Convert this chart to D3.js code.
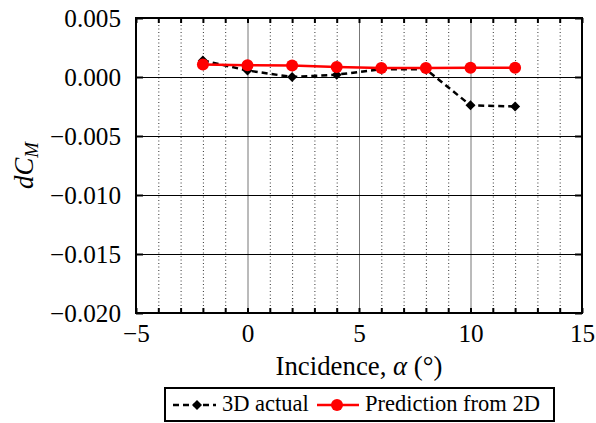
<!DOCTYPE html>
<html>
<head>
<meta charset="utf-8">
<script src="https://cdn.jsdelivr.net/npm/d3@7"></script>
</head>
<body style="margin:0;background:#fff">
<svg id="chart" width="596" height="423" style="display:block" font-family="Liberation Serif"></svg>
<script>
// Incidence angles (degrees)
const alphas = [-2, 0, 2, 4, 6, 8, 10, 12];
// Pitching moment increment measured in 3D
const actual3D = [0.0014, 0.00055, 0.0, 0.0002, 0.00065, 0.00065, -0.0024, -0.0025];
// Pitching moment increment predicted from 2D data
const predicted2D = [0.00105, 0.001, 0.00097, 0.00085, 0.00077, 0.00077, 0.00078, 0.00078];

const xTicks = [-5, 0, 5, 10, 15];
const yTicks = [0.005, 0.000, -0.005, -0.010, -0.015, -0.020];

const FAMILY = "Liberation Serif";
const svg = d3.select("#chart");
const W = 596, H = 423;
const margin = { left: 136, right: 14, top: 18, bottom: 110 };
const x = d3.scaleLinear().domain([-5, 15]).range([margin.left, W - margin.right]);
const y = d3.scaleLinear().domain([-0.020, 0.005]).range([H - margin.bottom, margin.top]);
const [x0, x1] = x.range();
const [y0, y1] = y.range();

const minus = s => s.replace("-", "\u2212");
const fmt = v => minus(d3.format(".3f")(v === 0 ? 0 : v));
const serif = (sel, size) => sel.attr("font-family", FAMILY).attr("font-size", size)
  .style("font-family", `'${FAMILY}'`, "important").style("font-size", size + "px", "important");

// Scale a group of texts so that a reference label spans the wanted width
function fitSize(sel, refNode, baseSize, wantWidth) {
  let size = baseSize;
  try {
    const w = refNode.getComputedTextLength();
    if (w > 0) size = Math.max(baseSize * 0.85, Math.min(baseSize * 1.35, baseSize * wantWidth / w));
  } catch (e) { /* keep base size */ }
  sel.style("font-size", size.toFixed(1) + "px", "important").attr("font-size", size.toFixed(1));
  return size;
}

// Minor vertical grid (every degree)
const minor = d3.range(-4, 15).filter(v => v % 5 !== 0);
svg.append("g").selectAll("line").data(minor).join("line")
  .attr("x1", d => x(d) + 0.5).attr("x2", d => x(d) + 0.5)
  .attr("y1", y1).attr("y2", y0)
  .attr("stroke", "#333").attr("stroke-width", 1).attr("stroke-dasharray", "1,2.5");

// Major vertical grid
svg.append("g").selectAll("line").data(xTicks.slice(1, -1)).join("line")
  .attr("x1", d => x(d) + 0.5).attr("x2", d => x(d) + 0.5)
  .attr("y1", y1).attr("y2", y0)
  .attr("stroke", "#777").attr("stroke-width", 1);

// Horizontal grid
svg.append("g").selectAll("line").data(yTicks.slice(1, -1)).join("line")
  .attr("x1", x0).attr("x2", x1)
  .attr("y1", d => Math.round(y(d)) + 0.5).attr("y2", d => Math.round(y(d)) + 0.5)
  .attr("stroke", "#000").attr("stroke-width", 1);

// Axes with inward ticks on all four sides
const allX = d3.range(-5, 16);
const gxb = svg.append("g").attr("transform", `translate(0,${y0})`)
  .call(d3.axisBottom(x).tickValues(allX).tickSize(-5).tickSizeOuter(0)
    .tickFormat(d => xTicks.includes(d) ? minus(String(d)) : ""));
serif(gxb, 24);
gxb.selectAll(".tick line").attr("stroke-width", 2);
const xTickText = serif(gxb.selectAll(".tick text").attr("y", 11).attr("dy", "0.71em"), 24);
gxb.select(".domain").remove();

const gxt = svg.append("g").attr("transform", `translate(0,${y1})`)
  .call(d3.axisTop(x).tickValues(allX).tickSize(-5).tickSizeOuter(0).tickFormat(""));
gxt.selectAll(".tick line").attr("stroke-width", 2);
gxt.select(".domain").remove();

const gyl = svg.append("g").attr("transform", `translate(${x0},0)`)
  .call(d3.axisLeft(y).tickValues(yTicks).tickSize(-7).tickSizeOuter(0).tickFormat(fmt));
serif(gyl, 24);
gyl.selectAll(".tick line").attr("stroke-width", 2);
const yTickText = serif(gyl.selectAll(".tick text").attr("x", -15), 24);
gyl.select(".domain").remove();

const gyr = svg.append("g").attr("transform", `translate(${x1},0)`)
  .call(d3.axisRight(y).tickValues(yTicks).tickSize(-7).tickSizeOuter(0).tickFormat(""));
gyr.selectAll(".tick line").attr("stroke-width", 2);
gyr.select(".domain").remove();

// Tick label size: "−0.020" spans about 71px
const tickSize = fitSize(yTickText, yTickText.nodes()[yTickText.size() - 1], 24, 71);
xTickText.style("font-size", tickSize.toFixed(1) + "px", "important");

// Plot frame
svg.append("rect").attr("x", x0).attr("y", y1).attr("width", x1 - x0).attr("height", y0 - y1)
  .attr("fill", "none").attr("stroke", "#000").attr("stroke-width", 2);

// Square diamond marker
const diamondType = {
  draw(ctx, size) {
    const r = Math.sqrt(size / 2);
    ctx.moveTo(0, -r); ctx.lineTo(r, 0); ctx.lineTo(0, r); ctx.lineTo(-r, 0); ctx.closePath();
  }
};
const diamond = d3.symbol().type(diamondType).size(50);
const line = d3.line();

const pts3D = alphas.map((a, i) => [x(a), y(actual3D[i])]);
const pts2D = alphas.map((a, i) => [x(a), y(predicted2D[i])]);

svg.append("path").attr("d", line(pts3D)).attr("fill", "none")
  .attr("stroke", "#000").attr("stroke-width", 2.5).attr("stroke-dasharray", "6,4");
svg.append("g").selectAll("path").data(pts3D).join("path")
  .attr("transform", d => `translate(${d[0]},${d[1]})`).attr("d", diamond).attr("fill", "#000");

svg.append("path").attr("d", line(pts2D)).attr("fill", "none")
  .attr("stroke", "#f00").attr("stroke-width", 2.5);
svg.append("g").selectAll("circle").data(pts2D).join("circle")
  .attr("cx", d => d[0]).attr("cy", d => d[1]).attr("r", 6).attr("fill", "#f00");

// Axis titles
const yl = serif(svg.append("text").attr("transform", `translate(33,${(y0 + y1) / 2}) rotate(-90)`)
  .attr("text-anchor", "middle").attr("font-style", "italic"), 24);
yl.append("tspan").text("dC");
yl.append("tspan").text("M").attr("dy", 5).attr("font-size", 17).style("font-size", "0.7em", "important");

const xl = serif(svg.append("text").attr("x", (x0 + x1) / 2).attr("y", 375)
  .attr("text-anchor", "middle"), 24);
xl.append("tspan").text("Incidence, ");
xl.append("tspan").text("\u03b1").attr("font-style", "italic");
xl.append("tspan").text(" (\u00b0)");
const titleSize = fitSize(xl, xl.node(), 24, 167);
yl.style("font-size", titleSize.toFixed(1) + "px", "important");

// Legend
const lg = svg.append("g");
lg.append("rect").attr("x", 165).attr("y", 388).attr("width", 389).attr("height", 33)
  .attr("fill", "#fff").attr("stroke", "#000").attr("stroke-width", 2);
const ly = 405;
lg.append("line").attr("x1", 173).attr("x2", 216).attr("y1", ly).attr("y2", ly)
  .attr("stroke", "#000").attr("stroke-width", 2.5).attr("stroke-dasharray", "6,4");
lg.append("path").attr("transform", `translate(197,${ly})`).attr("d", diamond).attr("fill", "#000");
const lt1 = serif(lg.append("text").attr("x", 222).attr("y", 411).text("3D actual"), 21);
lg.append("line").attr("x1", 317).attr("x2", 359).attr("y1", ly).attr("y2", ly)
  .attr("stroke", "#f00").attr("stroke-width", 2.5);
lg.append("circle").attr("cx", 337).attr("cy", ly).attr("r", 6).attr("fill", "#f00");
const lt2 = serif(lg.append("text").attr("x", 365).attr("y", 411).text("Prediction from 2D"), 21);
const legSize = fitSize(lt2, lt2.node(), 21, 175);
lt1.style("font-size", legSize.toFixed(1) + "px", "important");
</script>
</body>
</html>
